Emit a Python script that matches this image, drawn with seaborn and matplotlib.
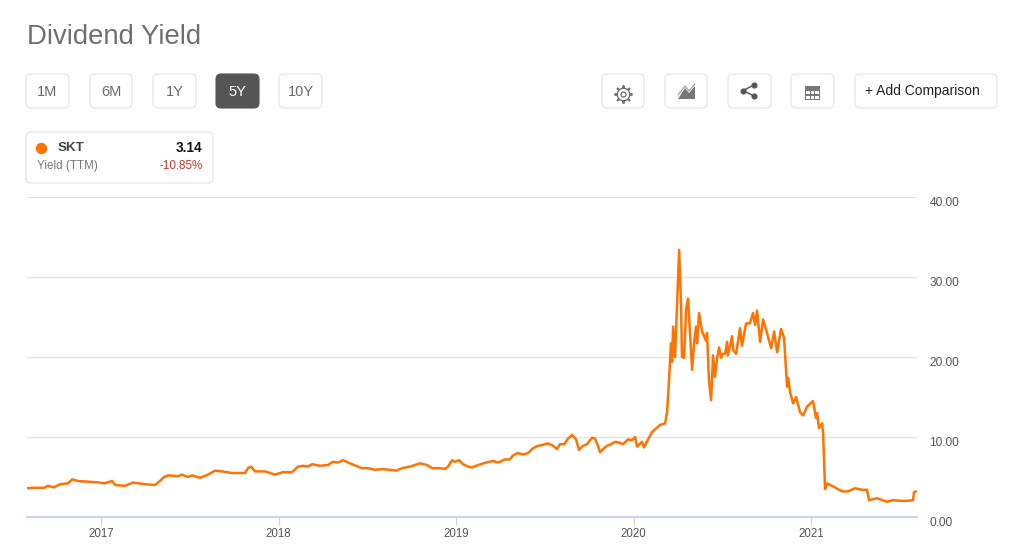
import pandas as pd
import matplotlib.pyplot as plt
import matplotlib.patches as mpatches
import seaborn as sns

# yield, dates as fractional years
years_2016 = [2016.583, 2016.617, 2016.679, 2016.701, 2016.735, 2016.769, 2016.814, 2016.837, 2016.870, 2016.938, 2016.994]
yield_2016 = [3.6, 3.65, 3.65, 3.9, 3.7, 4.1, 4.2, 4.7, 4.5, 4.4, 4.3]

years_2017 = [2017.017, 2017.062, 2017.079, 2017.135, 2017.180, 2017.248, 2017.304, 2017.332, 2017.355, 2017.377,
              2017.434, 2017.456, 2017.490, 2017.513, 2017.558, 2017.603, 2017.642, 2017.682, 2017.738, 2017.811,
              2017.828, 2017.845, 2017.868, 2017.924, 2017.980]
yield_2017 = [4.2, 4.5, 4.0, 3.9, 4.3, 4.1, 4.0, 4.5, 5.0, 5.2,
              5.1, 5.3, 5.0, 5.2, 4.9, 5.3, 5.8, 5.7, 5.5, 5.5,
              6.1, 6.3, 5.7, 5.7, 5.3]

years_2018 = [2018.025, 2018.076, 2018.110, 2018.138, 2018.166, 2018.189, 2018.234, 2018.279, 2018.307, 2018.335,
              2018.363, 2018.403, 2018.448, 2018.470, 2018.504, 2018.544, 2018.589, 2018.628, 2018.662, 2018.696,
              2018.741, 2018.769, 2018.797, 2018.837, 2018.865, 2018.910, 2018.938, 2018.955, 2018.978, 2018.994]
yield_2018 = [5.6, 5.6, 6.3, 6.4, 6.3, 6.6, 6.4, 6.5, 6.9, 6.8,
              7.1, 6.7, 6.3, 6.1, 6.1, 5.9, 6.0, 5.9, 5.8, 6.1,
              6.3, 6.5, 6.7, 6.5, 6.1, 6.1, 6.0, 6.3, 7.1, 6.9]

years_2019 = [2019.017, 2019.039, 2019.068, 2019.090, 2019.124, 2019.169, 2019.209, 2019.237, 2019.276, 2019.304,
              2019.321, 2019.349, 2019.378, 2019.406, 2019.434, 2019.462, 2019.485, 2019.518, 2019.547, 2019.569,
              2019.586, 2019.609, 2019.631, 2019.654, 2019.676, 2019.693, 2019.716, 2019.738, 2019.766, 2019.783,
              2019.800, 2019.811, 2019.834, 2019.851, 2019.873, 2019.896, 2019.918, 2019.941, 2019.969, 2019.992]
yield_2019 = [7.1, 6.6, 6.3, 6.2, 6.5, 6.8, 7.0, 6.8, 7.2, 7.2,
              7.7, 8.0, 7.8, 8.0, 8.6, 8.9, 9.0, 9.2, 8.9, 8.5,
              9.1, 9.1, 9.8, 10.25, 9.7, 8.4, 8.9, 9.1, 9.9, 9.8,
              8.9, 8.1, 8.6, 8.9, 9.1, 9.4, 9.3, 9.1, 9.7, 9.6]

years_2020 = [2020.009, 2020.020, 2020.048, 2020.059, 2020.082, 2020.104, 2020.149, 2020.178, 2020.189, 2020.200,
              2020.211, 2020.217, 2020.223, 2020.234, 2020.245, 2020.257, 2020.268, 2020.273, 2020.285, 2020.296,
              2020.307, 2020.318, 2020.330, 2020.341, 2020.352, 2020.358, 2020.369, 2020.386, 2020.409, 2020.414,
              2020.425, 2020.437, 2020.448, 2020.459, 2020.471, 2020.482, 2020.493, 2020.504, 2020.516, 2020.527,
              2020.532, 2020.555, 2020.561, 2020.578, 2020.600, 2020.611, 2020.634, 2020.656, 2020.673, 2020.685,
              2020.696, 2020.713, 2020.730, 2020.752, 2020.775, 2020.792, 2020.809, 2020.831, 2020.848, 2020.865,
              2020.871, 2020.882, 2020.899, 2020.916, 2020.938, 2020.955, 2020.978]
yield_2020 = [10.0, 8.8, 9.4, 8.7, 9.7, 10.6, 11.5, 11.7, 13.1, 17.1,
              21.7, 19.4, 23.8, 20.0, 26.3, 33.4, 26.3, 20.0, 19.9, 25.9,
              27.3, 23.0, 18.4, 21.7, 23.8, 21.7, 25.5, 23.2, 22.0, 23.0,
              17.1, 14.6, 20.2, 17.5, 19.9, 21.2, 19.9, 20.4, 20.4, 21.9,
              20.2, 22.6, 20.9, 20.4, 23.6, 21.4, 24.2, 24.2, 25.5, 24.0,
              25.8, 21.9, 24.7, 23.0, 21.1, 23.2, 20.6, 23.5, 22.4, 16.3,
              17.4, 15.6, 14.2, 15.0, 13.1, 12.7, 13.8]

years_2021 = [2021.011, 2021.028, 2021.034, 2021.045, 2021.062, 2021.068, 2021.079, 2021.090, 2021.135, 2021.175,
              2021.209, 2021.248, 2021.287, 2021.315, 2021.327, 2021.372, 2021.428, 2021.462, 2021.530, 2021.575,
              2021.580, 2021.592]
yield_2021 = [14.5, 12.4, 13.0, 11.1, 11.7, 10.5, 3.5, 4.2, 3.7, 3.2,
              3.2, 3.6, 3.4, 3.4, 2.1, 2.35, 1.9, 2.1, 2.0, 2.1,
              3.1, 3.2]

year_ticks = [2017, 2018, 2019, 2020, 2021]
yield_ticks = [0, 10, 20, 30, 40]
range_buttons = ["1M", "6M", "1Y", "5Y", "10Y"]

df = pd.DataFrame({
    "year": years_2016 + years_2017 + years_2018 + years_2019 + years_2020 + years_2021,
    "yield": yield_2016 + yield_2017 + yield_2018 + yield_2019 + yield_2020 + yield_2021,
})

sns.set_theme(style="white")
plt.rcParams["font.family"] = ["Liberation Sans", "DejaVu Sans"]

W, H = 1022, 558
fig = plt.figure(figsize=(W / 100, H / 100), dpi=100, facecolor="white")

# chart area
ax = fig.add_axes([27 / W, 1 - 517 / H, 890 / W, 320 / H])
sns.lineplot(data=df, x="year", y="yield", color="#ff7300", linewidth=1.8, ax=ax, sort=False)
ax.set_xlim(2016.583, 2021.597)
ax.set_ylim(0, 40)
ax.set_xlabel("")
ax.set_ylabel("")
ax.set_xticks(year_ticks)
ax.set_xticklabels([str(y) for y in year_ticks])
ax.set_yticks(yield_ticks)
ax.set_yticklabels([f"{v:.2f}" for v in yield_ticks])
ax.yaxis.tick_right()
ax.grid(axis="y", color="#e3e3e3", linewidth=1)
ax.set_axisbelow(True)
ax.tick_params(axis="x", length=6, width=1, color="#ccd6eb", labelsize=8.3, labelcolor="#555555", pad=2, bottom=True)
ax.tick_params(axis="y", length=0, labelsize=8.6, labelcolor="#555555", pad=9)
for lab in ax.get_yticklabels():
    lab.set_verticalalignment("top")
    lab.set_y(0)
for s in ["top", "left", "right"]:
    ax.spines[s].set_visible(False)
ax.spines["bottom"].set_color("#ccd6eb")
ax.spines["bottom"].set_linewidth(1.5)

# page furniture on top, in pixel coordinates
ui = fig.add_axes([0, 0, 1, 1], facecolor="none")
ui.set_xlim(0, W)
ui.set_ylim(H, 0)
ui.axis("off")


def box(x0, y0, x1, y1, face="white", edge="#e4e4e4", rad=5):
    ui.add_patch(mpatches.FancyBboxPatch((x0 + rad, y0 + rad), x1 - x0 - 2 * rad, y1 - y0 - 2 * rad,
                                         boxstyle=f"round,pad={rad},rounding_size={rad}",
                                         fc=face, ec=edge, lw=0.8, mutation_aspect=1))


ui.text(27, 36.5, "Dividend Yield", fontsize=19.8, color="#6f6f6f", va="center", ha="left")

button_edges = [(26, 69), (90, 132), (153, 196), (216, 259), (279, 322)]
for name, (x0, x1) in zip(range_buttons, button_edges):
    active = name == "5Y"
    box(x0, 74, x1, 108, face="#555555" if active else "white", edge="#555555" if active else "#e4e4e4")
    ui.text((x0 + x1) / 2, 91.5, name, fontsize=10.5, color="white" if active else "#6a6a6a", ha="center", va="center")

# toolbar icons
for x0, x1 in [(602, 644), (665, 707), (728, 771), (791, 834)]:
    box(x0, 74, x1, 108)
box(855, 74, 997, 108)
ui.text(865, 91, "+ Add Comparison", fontsize=10, color="#222222", ha="left", va="center")

ui.plot([622.5], [93.5], marker=(8, 2, 0), ms=13, mec="#777777", mew=1.4)
ui.plot([622.5], [93.5], marker="o", ms=9, mfc="white", mec="#666666", mew=0.9)
ui.plot([622.5], [93.5], marker="o", ms=3.6, mfc="white", mec="#666666", mew=0.9)
ui.add_patch(mpatches.Polygon([(678, 99), (685, 88), (689, 93), (695, 86), (695, 99)], fc="#777777", ec="none"))
ui.plot([678, 685, 689, 695], [95, 86, 91, 84], color="#999999", lw=0.8)
ui.plot([754, 743, 754], [85, 90.5, 96], color="#555555", lw=1.1)
ui.plot([754, 743, 754], [85, 90.5, 96], ls="none", marker="o", ms=3.4, color="#555555")
ui.add_patch(mpatches.Rectangle((805, 86), 15, 14, fc="#777777", ec="none"))
for cx in [805.8, 810.6, 815.4]:
    for cy in [90.5, 95.5]:
        ui.add_patch(mpatches.Rectangle((cx, cy), 3.8, 3.6, fc="white", ec="none"))

# legend card
box(26, 132, 213, 183)
ui.plot([40.5], [147.5], marker="o", ms=8.2, color="#ff7300", mew=0)
ui.text(58, 148, "SKT", fontsize=9.6, fontweight="bold", color="#444444", ha="left", va="center")
ui.text(202.5, 148, "3.14", fontsize=9.8, fontweight="bold", color="#111111", ha="right", va="center")
ui.text(37, 166, "Yield (TTM)", fontsize=8.4, color="#777777", ha="left", va="center")
ui.text(202.5, 166, "-10.85%", fontsize=8.4, color="#c0392b", ha="right", va="center")

fig.savefig("out.png", dpi=100)
